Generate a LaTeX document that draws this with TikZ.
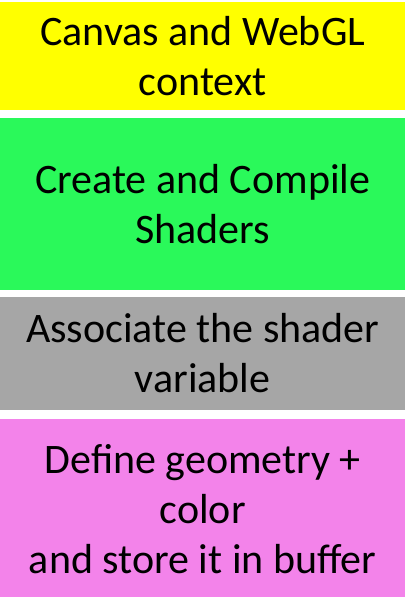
\documentclass[tikz,border=0pt]{standalone}
\usepackage{fontspec}
\setmainfont{Carlito}
\usepackage{tikz}
\usetikzlibrary{positioning}

\definecolor{stepyellow}{HTML}{FFFF00}
\definecolor{stepgreen}{HTML}{2AF95A}
\definecolor{stepgray}{HTML}{A6A6A6}
\definecolor{steppink}{HTML}{F383EA}

\begin{document}
\begin{tikzpicture}[x=1pt, y=1pt,
    stepbox/.style={rectangle, inner sep=0pt, minimum width=405pt, align=center,
      font=\fontsize{42}{50}\selectfont, text=black},
    node distance=7pt]
    \useasboundingbox (0,0) rectangle (405,-597);
    \node[stepbox, fill=stepyellow, minimum height=108pt, anchor=north west] (canvas) at (0,-2) {Canvas and WebGL\\context};
    \node[stepbox, fill=stepgreen, minimum height=172pt] (shaders) [below=of canvas] {Create and Compile\\Shaders};
    \node[stepbox, fill=stepgray, minimum height=113pt] (assoc) [below=of shaders] {Associate the shader\\variable};
    \node[stepbox, fill=steppink, minimum height=180pt] (buffer) [below=9pt of assoc] {Define geometry +\\color\\and store it in buffer};
\end{tikzpicture}
\end{document}
